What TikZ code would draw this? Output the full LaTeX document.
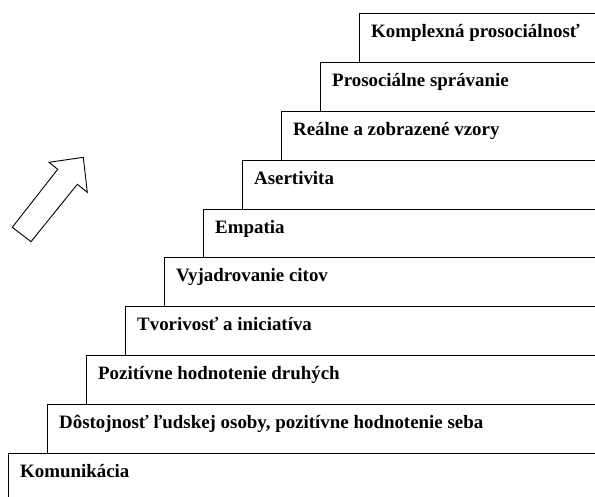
\documentclass[tikz,border=0pt]{standalone}
\usepackage{fontspec}
\setmainfont{Liberation Serif}
\begin{document}
\begin{tikzpicture}[x=1pt,y=-1pt,
  stepline/.style={line width=1pt,line join=miter},
  steplabel/.style={anchor=base west,inner sep=0pt,font=\fontsize{18.9}{21}\selectfont\bfseries},
  arrowshape/.style={line width=0.9pt,line join=miter}]
\useasboundingbox (0,0) rectangle (595,496);
% staircase: step i starts at x = 8 + 39 i, its top edge at y = 453 - 48.8 i
\foreach \i/\txt in {0/Komunikácia,
  1/{Dôstojnosť ľudskej osoby, pozitívne hodnotenie seba},
  2/Pozitívne hodnotenie druhých,
  3/Tvorivosť a iniciatíva,
  4/Vyjadrovanie citov,
  5/Empatia,
  6/Asertivita,
  7/Reálne a zobrazené vzory,
  8/Prosociálne správanie,
  9/Komplexná prosociálnosť}{
  \pgfmathsetmacro{\xl}{8+39*\i}
  \pgfmathsetmacro{\yt}{453-48.8*\i}
  \pgfmathsetmacro{\yb}{\i==0 ? 500 : 453-48.8*(\i-1)}
  \draw[stepline] (\xl,\yb) -- (\xl,\yt) -- (600,\yt);
  \node[steplabel] (s\i) at (\xl+12,\yt+24) {\txt};
}
% outline arrow pointing up the stairs
\draw[arrowshape] (12.3,227.3) -- (57.7,169.3) -- (49,162.3) -- (83.3,157.3)
  -- (87.3,192.3) -- (77.3,184.3) -- (31,241.7) -- cycle;
\end{tikzpicture}
\end{document}
